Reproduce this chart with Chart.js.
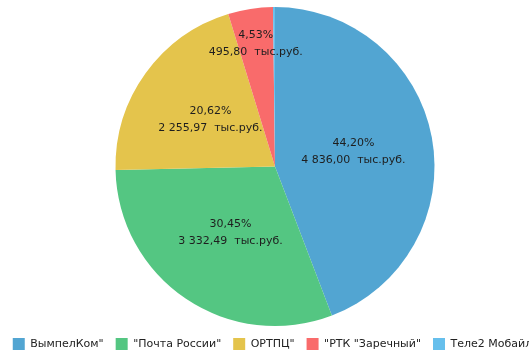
<!DOCTYPE html>
<html>
<head>
<meta charset="utf-8">
<script src="https://cdn.jsdelivr.net/npm/chart.js@4"></script>
<style>
  html, body { margin: 0; padding: 0; background: #fff; overflow: hidden; }
  .wrap { width: 529px; height: 350px; overflow: hidden; }
  .chart-box { width: 580px; height: 361px; position: relative; margin-left: -15px; }
</style>
</head>
<body>
<div class="wrap">
  <div class="chart-box">
    <canvas id="costsPie"></canvas>
  </div>
</div>
<script>
// Расходы по операторам, тыс.руб.
const operators = ['ВымпелКом"', '"Почта России"', 'ОРТПЦ"', '"РТК "Заречный"', 'Теле2 Мобайл"'];
const amounts = [4836.00, 3332.49, 2255.97, 495.80, 22.0];
const shares = [44.20, 30.45, 20.62, 4.53, 0.20];
const sliceColors = ['#52a5d2', '#54c682', '#e4c44c', '#f96b6b', '#66bfec'];

const fmtNum = (v) => {
  const [int, dec] = v.toFixed(2).split('.');
  return int.replace(/\B(?=(\d{3})+(?!\d))/g, ' ') + ',' + dec;
};

// подписи внутри секторов: процент + сумма
const sliceLabels = {
  id: 'sliceLabels',
  afterDatasetsDraw(chart) {
    const { ctx } = chart;
    const meta = chart.getDatasetMeta(0);
    ctx.save();
    ctx.font = '11px "DejaVu Sans"';
    ctx.fillStyle = '#1e1e1e';
    ctx.textAlign = 'center';
    ctx.textBaseline = 'middle';
    meta.data.forEach((arc, i) => {
      const pct = shares[i];
      if (pct < 1) return;
      const { x, y, startAngle, endAngle, outerRadius } = arc.getProps(['x', 'y', 'startAngle', 'endAngle', 'outerRadius'], true);
      const mid = (startAngle + endAngle) / 2;
      const r = outerRadius * (pct < 10 ? 0.78 : 0.5);
      const lx = x + Math.cos(mid) * r;
      const ly = y + Math.sin(mid) * r;
      ctx.fillText(pct.toFixed(2).replace('.', ',') + '%', lx, ly - 8.5);
      ctx.fillText(fmtNum(amounts[i]) + '  тыс.руб.', lx, ly + 8.5);
    });
    ctx.restore();
  }
};

new Chart(document.getElementById('costsPie'), {
  type: 'pie',
  data: {
    labels: operators,
    datasets: [{
      data: amounts,
      backgroundColor: sliceColors,
      borderWidth: 0
    }]
  },
  options: {
    responsive: true,
    maintainAspectRatio: false,
    animation: false,
    layout: { padding: { top: 7, bottom: 1 } },
    plugins: {
      legend: {
        position: 'bottom',
        labels: {
          boxWidth: 12,
          boxHeight: 12,
          padding: 12,
          color: '#222',
          font: { family: 'DejaVu Sans', size: 11 }
        }
      },
      tooltip: { enabled: false }
    }
  },
  plugins: [sliceLabels]
});
</script>
</body>
</html>
